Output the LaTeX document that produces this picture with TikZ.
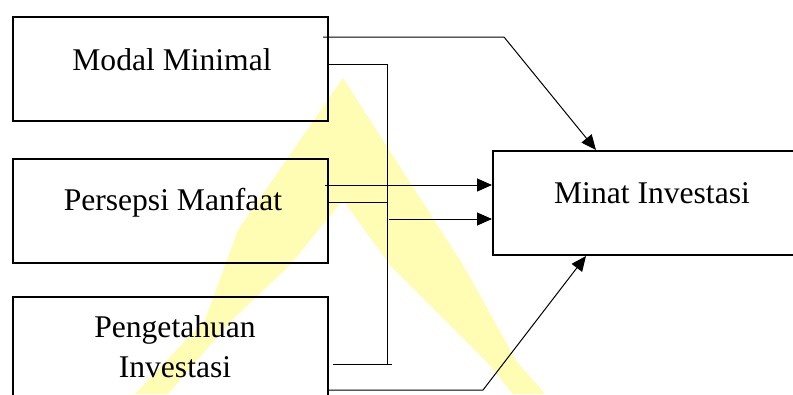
\documentclass[tikz,border=0pt]{standalone}
\usepackage{fontspec}
\setmainfont{Liberation Serif}
\usetikzlibrary{arrows.meta,calc}
\definecolor{wmyellow}{RGB}{255,252,180}
\tikzset{
  box/.style={draw=black, line width=2pt, minimum width=315pt, minimum height=104pt, inner sep=0pt},
  lbl/.style={font=\fontsize{31.6}{40}\selectfont, inner sep=0pt},
  conn/.style={line width=1pt, draw=black},
  arr/.style={conn, -{Triangle[length=15pt,width=13pt]}},
}
\begin{document}
\begin{tikzpicture}[x=1pt,y=-1pt]
\useasboundingbox (0,0) rectangle (793,394);
\clip (0,0) rectangle (793,394);
\fill[white] (0,0) rectangle (793,394);
% watermark
\fill[wmyellow] (343,78) -- (238,230) -- (205,320) -- (135,394) -- (168,394) -- (232,320) -- (290,265) -- (343,200)
  -- (390,265) -- (487,362) -- (513,394) -- (545,394) -- (517,362) -- (463,265) -- cycle;
% boxes
\node[box] (Modal) at (170.5,69) {};
\node[box] (Persepsi) at (170.5,210.5) {};
\node[box] (Peng) at (170.5,349) {};
\node[box] (Minat) at (650.5,203) {};
% labels
\node[lbl, anchor=base] (tModal) at (172,70) {Modal Minimal};
\node[lbl, anchor=base] (tPersepsi) at (173,210) {Persepsi Manfaat};
\node[lbl, anchor=base] (tMinat) at (652,203) {Minat Investasi};
\node[lbl, anchor=center, align=center] (tPeng) at (175,346.2) {Pengetahuan\\Investasi};
% connector coordinates
\coordinate (mA) at (323,37);
\coordinate (mB) at (504,37);
\coordinate (tTop) at ($(Minat.north west)+(104,0)$);
\coordinate (vTop) at (387,64);
\coordinate (vBot) at (387,365);
\coordinate (p1) at (325,185);
\coordinate (p2) at (387,202);
\coordinate (p3) at (389,219);
\coordinate (k1) at (333,364);
\coordinate (k2) at (392,364);
\coordinate (k3) at (483,390);
\coordinate (tBot) at ($(Minat.south west)+(94,0)$);
% connectors
\draw[arr] (mA) -- (mB) -- (tTop);
\draw[conn] (Modal.east |- vTop) -- (vTop) -- (vBot);
\draw[arr] (p1) -- (p1 -| Minat.west);
\draw[conn] (Persepsi.east |- p2) -- (p2);
\draw[arr] (p3) -- (p3 -| Minat.west);
\draw[conn] (k1) -- (k2);
\draw[arr] (Peng.east |- k3) -- (k3) -- (tBot);
\end{tikzpicture}
\end{document}
